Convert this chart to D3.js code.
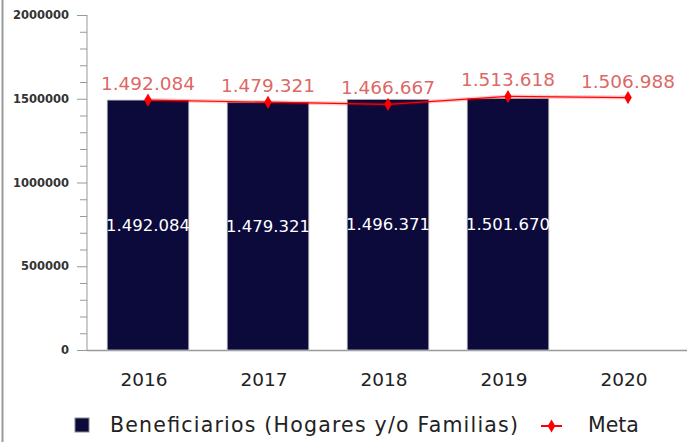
<!DOCTYPE html>
<html><head><meta charset="utf-8">
<script src="https://cdn.jsdelivr.net/npm/d3@7"></script>
<style>body{margin:0;background:#fff}svg{display:block;font-family:"DejaVu Sans",sans-serif}</style>
</head><body><svg id="c" width="693" height="442"></svg>
<script>
const years = ["2016","2017","2018","2019","2020"];
const beneficiarios = [1492084, 1479321, 1496371, 1501670, null];
const meta = [1492084, 1479321, 1466667, 1513618, 1506988];
const yTicks = [0, 500000, 1000000, 1500000, 2000000];
const seriesNames = ["Beneficiarios (Hogares y/o Familias)", "Meta"];

const fmt = v => d3.format(",")(v).replace(/,/g, ".");
const svg = d3.select("#c");
const x = d3.scaleBand().domain(years).range([88, 688]).paddingInner(0.32).paddingOuter(0.16);
const y = d3.scaleLinear().domain([0, 2000000]).range([350, 15]);

// left border
svg.append("line").attr("x1",2.5).attr("x2",2.5).attr("y1",0).attr("y2",442).attr("stroke","#999").attr("stroke-width",2);

// y axis
const ya = svg.append("g").attr("transform","translate(87,0)");
ya.append("line").attr("y1",y(0)).attr("y2",y(2000000)).attr("stroke","#999");
const minor = d3.range(0, 2000001, 100000);
ya.selectAll(".mt").data(minor).join("line")
  .attr("x1", d => d % 500000 === 0 ? -10 : -7).attr("x2",0)
  .attr("y1", d => y(d)+0.5).attr("y2", d => y(d)+0.5).attr("stroke","#999");
ya.selectAll(".tl").data(yTicks).join("text")
  .attr("x",-18).attr("y", d => y(d)).attr("dy","0.35em").attr("text-anchor","end")
  .attr("font-size",11.5).attr("font-weight","bold").attr("fill","#333").text(d => d);

// x axis
svg.append("line").attr("x1",87).attr("x2",687).attr("y1",350.5).attr("y2",350.5).attr("stroke","#999").attr("stroke-width",1.5);
svg.selectAll(".xl").data(years).join("text")
  .attr("x", d => x(d)+x.bandwidth()/2-4).attr("y",385.5).attr("text-anchor","middle")
  .attr("font-size",18.5).attr("fill","#222").text(d => d);

// bars
const bd = years.map((d,i)=>({k:d,v:beneficiarios[i]})).filter(d=>d.v!=null);
svg.selectAll(".bar").data(bd).join("rect")
  .attr("x", d => x(d.k)).attr("width", x.bandwidth())
  .attr("y", d => y(d.v)).attr("height", d => y(0)-y(d.v))
  .attr("fill","#0b0a3a").attr("stroke","#bbb").attr("stroke-width",0.8);
svg.selectAll(".bl").data(bd).join("text")
  .attr("x", d => x(d.k)+x.bandwidth()/2).attr("y", d => (y(d.v)+y(0))/2)
  .attr("dy","0.35em").attr("text-anchor","middle").attr("font-size",16.5).attr("fill","#fff")
  .text(d => fmt(d.v));

// meta line
const md = years.map((d,i)=>({k:d,v:meta[i]}));
const cx = d => x(d.k)+x.bandwidth()/2;
const line = d3.line().x(cx).y(d=>y(d.v));
svg.append("path").datum(md).attr("d",line).attr("fill","none").attr("stroke","#ff0000").attr("stroke-opacity",0.2).attr("stroke-width",4);
svg.append("path").datum(md).attr("d",line).attr("fill","none").attr("stroke","#ff0000").attr("stroke-width",1.2);
const dia = d3.symbol().type(d3.symbolDiamond).size(50);
svg.selectAll(".mk").data(md).join("path")
  .attr("transform", d => `translate(${cx(d)},${y(d.v)})`).attr("d",dia).attr("fill","#ff0000");
svg.selectAll(".ml").data(md).join("text")
  .attr("x", cx).attr("y", d => y(d.v)-10).attr("text-anchor","middle")
  .attr("font-size",18.5).attr("fill","#d9534f").attr("fill-opacity",0.9).text(d => fmt(d.v));

// legend
svg.append("rect").attr("x",75).attr("y",418).attr("width",14).attr("height",14).attr("fill","#0b0a3a").attr("stroke","#888");
svg.append("text").attr("x",110).attr("y",425).attr("dy","0.35em").attr("font-size",20.5)
  .attr("textLength",408).attr("lengthAdjust","spacing").attr("fill","#222").text(seriesNames[0]);
svg.append("line").attr("x1",541).attr("x2",562).attr("y1",426).attr("y2",426).attr("stroke","#ff0000").attr("stroke-width",2);
svg.append("path").attr("transform","translate(551.5,426)").attr("d",dia).attr("fill","#ff0000");
svg.append("text").attr("x",588).attr("y",425).attr("dy","0.35em").attr("font-size",20.5).attr("fill","#222").text(seriesNames[1]);
</script></body></html>
